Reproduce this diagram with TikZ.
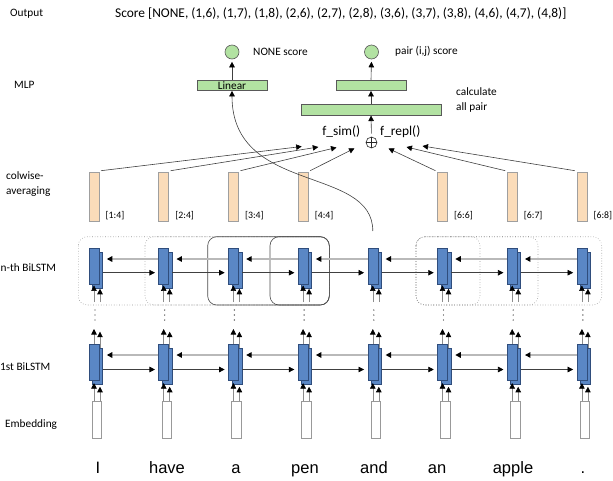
\documentclass[tikz,border=0pt]{standalone}
\usepackage{fontspec}
\setmainfont{Carlito}
\newfontfamily\wordfont{Liberation Sans}
\usetikzlibrary{arrows.meta}
\usetikzlibrary{calc}

\definecolor{lstmblue}{HTML}{5A87C5}
\definecolor{lstmedge}{HTML}{2F4D7C}
\definecolor{avgfill}{HTML}{FBDCB9}
\definecolor{mlpgreen}{HTML}{B2E2A2}

\begin{document}
\begin{tikzpicture}[x=1pt,y=-1pt,>={Triangle[length=5.5pt,width=5.5pt,color=black]},
        lstm/.style={rectangle,draw=lstmedge,fill=lstmblue,minimum width=10pt,minimum height=36pt,inner sep=0pt,line width=.5pt},
        emb/.style={rectangle,draw=gray!80,fill=white,minimum width=9.5pt,minimum height=36.5pt,inner sep=0pt,line width=.6pt},
        avg/.style={rectangle,draw=gray!75,fill=avgfill,minimum width=10pt,minimum height=49pt,inner sep=0pt,outer sep=2pt,line width=.6pt},
        mlp/.style={rectangle,draw=gray!70!black,fill=mlpgreen,minimum height=10.5pt,inner sep=0pt,line width=.6pt},
        score/.style={circle,draw=gray!70!black,fill=mlpgreen,minimum size=14pt,inner sep=0pt,line width=.6pt},
        lbl/.style={anchor=west,inner sep=0pt,font=\fontsize{11.3pt}{15pt}\selectfont},
        big/.style={inner sep=0pt,font=\fontsize{13.4pt}{15pt}\selectfont},
        rng/.style={anchor=west,inner sep=0pt,font=\fontsize{9.8pt}{11pt}\selectfont},
        word/.style={anchor=base,inner sep=0pt,font=\wordfont\fontsize{16.5pt}{18pt}\selectfont},
        bwd/.style={->,draw=gray!55,line width=1.3pt,shorten >=4pt},
        fwd/.style={->,draw=black!75,line width=.6pt,shorten >=3.5pt},
        uparr/.style={->,draw=gray!90,line width=.6pt},
        link/.style={->,draw=black!75,line width=.6pt},
        dotbox/.style={draw=gray!85,dotted,line width=.6pt,rounded corners=9pt},
        solbox/.style={draw=black!70,line width=.6pt,rounded corners=9pt}]
  \useasboundingbox (0,0) rectangle (613,480);

  % row labels
  \node[lbl] (lout) at (10,13.5) {Output};
  \node[big,anchor=west] (sc) at (115,13.5) {Score [NONE, (1,6), (1,7), (1,8), (2,6), (2,7), (2,8), (3,6), (3,7), (3,8), (4,6), (4,7), (4,8)]};
  \node[lbl] (lmlp) at (14,85) {MLP};
  \node[lbl,align=left] (lcol) at (6,184.5) {colwise-\\averaging};
  \node[lbl] (lnth) at (0.5,268) {n-th BiLSTM};
  \node[lbl] (l1st) at (0,366.5) {1st BiLSTM};
  \node[lbl] (lemb) at (5,425) {Embedding};

  % spans over the n-th layer
  \foreach \l/\st in {78.3/dotbox,145/dotbox,207.7/solbox,270/solbox}
    \draw[\st] (\l,236.7) rectangle (329.3,305);
  \foreach \r in {480,538,601.7}
    \draw[dotbox] (416,236.7) rectangle (\r,305);

  % columns
  \foreach \i in {1,...,8}{
    \pgfmathsetmacro\cx{94+69.7*(\i-1)}
    \node[lstm] (nb\i) at (\cx+3.5,270) {};
    \node[lstm] (nf\i) at (\cx,266.2) {};
    \node[lstm] (fb\i) at (\cx+3.5,366) {};
    \node[lstm] (ff\i) at (\cx,362.3) {};
    \node[emb] (e\i) at (\cx+3,420) {};
    \coordinate (ni\i) at (\cx,302);
    \coordinate (nj\i) at (\cx+6,302);
    \coordinate (fo\i) at (\cx,329);
    \coordinate (fp\i) at (\cx+6,331.7);
    \draw[uparr,shorten >=2.5pt] (e\i.north -| ff\i) -- (ff\i.south);
    \draw[uparr,shorten >=2.5pt] ([xshift=2.5pt]e\i.north -| fb\i) -- ([xshift=2.5pt]fb\i.south);
    \draw[uparr] (ff\i.north) -- (fo\i);
    \draw[uparr] ([xshift=2.5pt]fb\i.north) -- (fp\i);
    \draw[uparr,shorten >=1pt] (ni\i) -- (nf\i.south);
    \draw[uparr,shorten >=.5pt] (nj\i) -- ([xshift=2.5pt]nb\i.south);
    \foreach \d in {310,315,320}
      \fill[black!80] (\cx+1,\d) circle (.7);
  }

  % recurrent links
  \foreach \i [count=\j from 2] in {1,...,7}{
    \draw[bwd] ([yshift=7.2pt]nf\j.west) -- ([yshift=7.2pt]nf\j.west -| nb\i.east);
    \draw[fwd] ([yshift=-2.7pt]nb\i.east) -- ([yshift=-2.7pt]nb\i.east -| nf\j.west);
    \draw[bwd] ([yshift=7.3pt]ff\j.west) -- ([yshift=7.3pt]ff\j.west -| fb\i.east);
    \draw[fwd] ([yshift=-3.5pt]fb\i.east) -- ([yshift=-3.5pt]fb\i.east -| ff\j.west);
  }

  % words
  \foreach \i/\wx/\w in {1/98/I,2/167/have,3/236/a,4/305/pen,5/374/and,6/437/an,7/513/apple,8/583/.}
    \node[word] (w\i) at (\wx,473) {\w};

  % colwise averaging
  \foreach \i/\r in {1/[1:4],2/[2:4],3/[3:4],4/[4:4],6/[6:6],7/[6:7],8/[6:8]}{
    \pgfmathsetmacro\cx{94+69.7*(\i-1)}
    \node[avg] (a\i) at (\cx,197.2) {};
    \node[rng] (r\i) at (\cx+11.5,216) {\r};
  }

  % combination
  \node[circle,draw=black!85,minimum size=11pt,inner sep=0pt,line width=.6pt] (plus) at (371.5,142.5) {};
  \draw[black!85,line width=.6pt] (plus.north) -- (plus.south) (plus.west) -- (plus.east);
  \node[big,anchor=east] (fsim) at (360.5,131.5) {f\_sim()};
  \node[big,anchor=west] (frepl) at (380,131.5) {f\_repl()};

  \coordinate (t1) at (301.7,146.5);
  \coordinate (t2) at (318.3,147);
  \coordinate (t3) at (336.5,147.5);
  \coordinate (t4) at (354.5,148.3);
  \coordinate (t6) at (388.5,148.5);
  \coordinate (t7) at (406.5,147);
  \coordinate (t8) at (422.5,146);
  \foreach \i in {1,2,3,4}
    \draw[link] (a\i.north east) -- (t\i);
  \foreach \i in {6,7,8}
    \draw[link] (a\i.north west) -- (t\i);

  % MLP
  \node[mlp,minimum width=140pt] (allp) at (371,110) {};
  \node[mlp,minimum width=70pt] (pairl) at (371,85.3) {};
  \node[mlp,minimum width=70pt,font=\fontsize{11.3pt}{13pt}\selectfont] (lin) at (232,85.3) {Linear};
  \node[score] (nones) at (232,52) {};
  \node[score] (pairs) at (371.5,52) {};
  \node[lbl] (tnone) at (253,51.5) {NONE score};
  \node[lbl] (tpair) at (395,51.5) {pair (i,j) score};
  \node[lbl,align=left] (tcalc) at (456,99.5) {calculate\\all pair};

  \draw[link,shorten <=3pt] (plus.north) -- (allp.south);
  \draw[link] (allp.north) -- (pairl.south);
  \draw[link,shorten >=2.5pt] (pairl.north) -- (pairs.south);
  \draw[link,shorten >=2.5pt] (lin.north) -- (nones.south);

  % NONE path from the 5th word
  \coordinate (c5) at (372.8,231);
  \draw[link] (c5) .. controls (372.8,165) and (232,195) .. (lin.south);
\end{tikzpicture}
\end{document}
